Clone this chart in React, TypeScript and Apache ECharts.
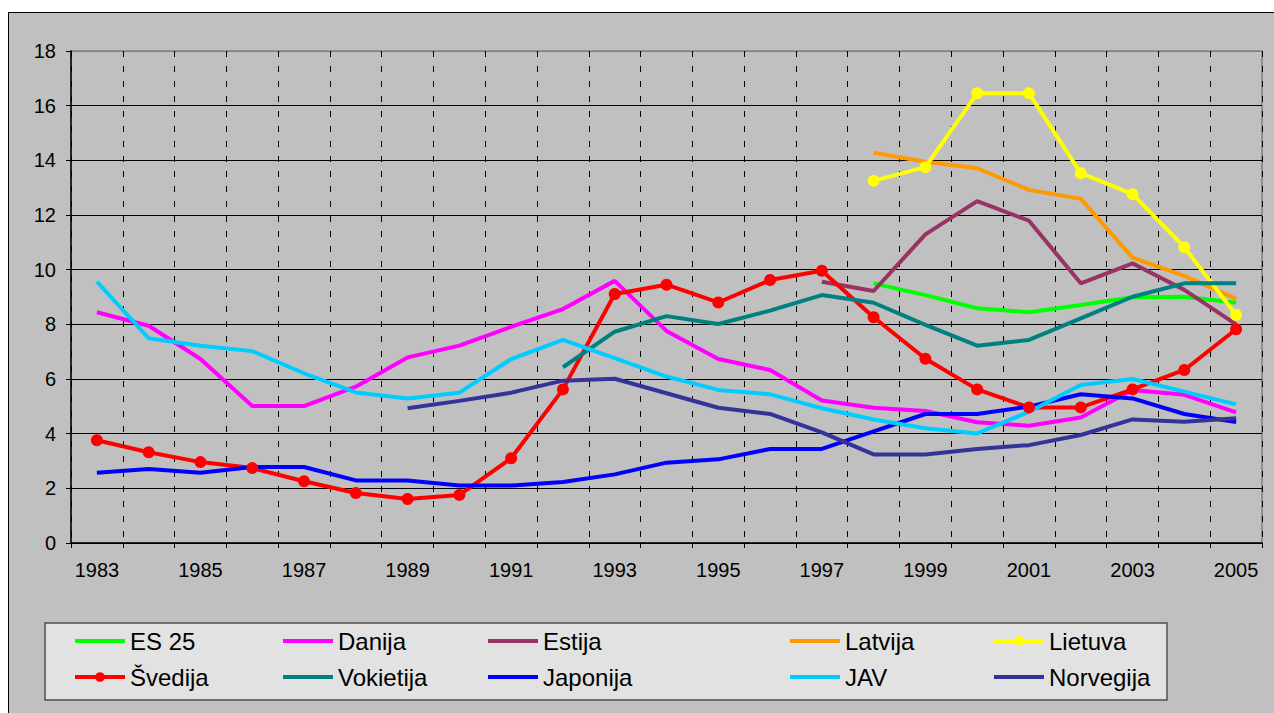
import React, { useEffect, useRef } from "react";
import * as echarts from "echarts";

const years = [
  "1983", "1984", "1985", "1986", "1987", "1988", "1989", "1990", "1991", "1992", "1993", "1994",
  "1995", "1996", "1997", "1998", "1999", "2000", "2001", "2002", "2003", "2004", "2005",
];

const N = null;
const es25 = [N, N, N, N, N, N, N, N, N, N, N, N, N, N, N, 9.5, 9.07, 8.59, 8.44, 8.71, 8.99, 9.01, 8.79];
const danija = [8.44, 7.95, 6.73, 5.01, 5.01, 5.72, 6.79, 7.22, 7.91, 8.56, 9.59, 7.76, 6.73, 6.33, 5.21, 4.95, 4.83, 4.42, 4.29, 4.59, 5.6, 5.42, 4.78];
const estija = [N, N, N, N, N, N, N, N, N, N, N, N, N, N, 9.56, 9.22, 11.29, 12.51, 11.79, 9.5, 10.23, 9.26, 8.0];
const latvija = [N, N, N, N, N, N, N, N, N, N, N, N, N, N, N, 14.28, 13.95, 13.71, 12.92, 12.59, 10.44, 9.77, 8.93];
const lietuva = [N, N, N, N, N, N, N, N, N, N, N, N, N, N, N, 13.25, 13.75, 16.45, 16.45, 13.53, 12.76, 10.82, 8.34];
const svedija = [3.76, 3.32, 2.96, 2.74, 2.26, 1.83, 1.61, 1.76, 3.1, 5.62, 9.11, 9.45, 8.8, 9.62, 9.96, 8.26, 6.74, 5.62, 4.96, 4.96, 5.62, 6.33, 7.82];
const vokietija = [N, N, N, N, N, N, N, N, N, 6.43, 7.73, 8.3, 8.01, 8.5, 9.07, 8.79, 7.98, 7.22, 7.43, 8.22, 9.01, 9.5, 9.5];
const japonija = [2.57, 2.71, 2.57, 2.78, 2.78, 2.29, 2.29, 2.1, 2.1, 2.23, 2.51, 2.94, 3.06, 3.44, 3.44, 4.08, 4.72, 4.72, 4.99, 5.44, 5.29, 4.72, 4.43];
const jav = [9.56, 7.49, 7.22, 7.02, 6.21, 5.51, 5.29, 5.5, 6.73, 7.43, 6.76, 6.09, 5.6, 5.44, 4.93, 4.52, 4.2, 4.01, 4.8, 5.78, 6.0, 5.54, 5.07];
const norvegija = [N, N, N, N, N, N, 4.93, 5.2, 5.5, 5.94, 6.01, 5.48, 4.95, 4.72, 4.05, 3.24, 3.24, 3.44, 3.58, 3.95, 4.52, 4.44, 4.56];

const seriesDefs = [
  { name: "ES 25", data: es25, color: "#00ff00", marker: false },
  { name: "Danija", data: danija, color: "#ff00ff", marker: false },
  { name: "Estija", data: estija, color: "#993366", marker: false },
  { name: "Latvija", data: latvija, color: "#ff9900", marker: false },
  { name: "Lietuva", data: lietuva, color: "#ffff00", marker: true },
  { name: "Švedija", data: svedija, color: "#ff0000", marker: true },
  { name: "Vokietija", data: vokietija, color: "#008080", marker: false },
  { name: "Japonija", data: japonija, color: "#0000ff", marker: false },
  { name: "JAV", data: jav, color: "#00ccff", marker: false },
  { name: "Norvegija", data: norvegija, color: "#333399", marker: false },
];

const legendColumns = [
  { left: 64, items: ["ES 25", "Švedija"] },
  { left: 272, items: ["Danija", "Vokietija"] },
  { left: 477, items: ["Estija", "Japonija"] },
  { left: 779, items: ["Latvija", "JAV"] },
  { left: 983, items: ["Lietuva", "Norvegija"] },
];

const FONT = "'Liberation Sans', Arial, sans-serif";

export default function App() {
  const ref = useRef<HTMLDivElement>(null);
  useEffect(() => {
    if (!ref.current) return;
    const chart = echarts.init(ref.current, null, { renderer: "svg" });
    const splitColors = ["#000", "#000", "#000", "#000", "#000", "#000", "#000", "#000", "#000", "#808080"];
    const hasMarker = (name: string) => seriesDefs.find((s) => s.name === name)?.marker;
    chart.setOption({
      animation: false,
      backgroundColor: "#c0c0c0",
      textStyle: { fontFamily: FONT },
      grid: {
        left: 62,
        top: 38,
        width: 1191,
        height: 492,
        show: true,
        borderColor: "#808080",
        borderWidth: 1.5,
        backgroundColor: "transparent",
      },
      graphic: [
        {
          type: "rect",
          shape: { x: 36, y: 610, width: 1122, height: 77 },
          style: { fill: "#e2e2e2", stroke: "#505050", lineWidth: 1.5 },
          z: 0,
        },
      ],
      legend: legendColumns.map((c) => ({
        orient: "vertical",
        left: c.left,
        top: 616,
        padding: 0,
        itemGap: 12,
        itemWidth: 50,
        itemHeight: 12,
        lineStyle: { width: 4 },
        data: c.items.map((n) =>
          hasMarker(n) ? { name: n } : { name: n, itemStyle: { opacity: 0 } }
        ),
        selectedMode: false,
        textStyle: { fontSize: 24, lineHeight: 24, color: "#000", fontFamily: FONT },
      })),
      xAxis: {
        type: "category",
        data: years,
        boundaryGap: true,
        axisLine: { lineStyle: { color: "#000", width: 1.5 } },
        axisTick: { show: true, interval: 0, length: 5, lineStyle: { color: "#000" } },
        axisLabel: { interval: 1, fontSize: 20, color: "#000", margin: 17, fontFamily: FONT },
        splitLine: { show: true, interval: 0, lineStyle: { color: "#000", type: [6, 9], width: 1 } },
      },
      yAxis: {
        type: "value",
        min: 0,
        max: 18,
        interval: 2,
        axisLine: { show: true, lineStyle: { color: "#000", width: 1.5 } },
        axisTick: { show: true, length: 5, lineStyle: { color: "#000" } },
        axisLabel: { fontSize: 20, color: "#000", margin: 15, fontFamily: FONT },
        splitLine: { show: true, lineStyle: { color: splitColors, width: 1 } },
      },
      series: seriesDefs.map((s) => ({
        name: s.name,
        type: "line",
        data: s.data,
        connectNulls: false,
        symbol: s.marker ? "circle" : "none",
        symbolSize: 12,
        showSymbol: s.marker,
        color: s.color,
        itemStyle: { color: s.color },
        lineStyle: { color: s.color, width: 4 },
      })),
    });
    return () => chart.dispose();
  }, []);
  return (
    <div
      style={{
        position: "fixed",
        left: 8,
        top: 12,
        width: 1280,
        height: 720,
        border: "1px solid #000",
        boxSizing: "content-box",
        background: "#c0c0c0",
      }}
    >
      <div ref={ref} style={{ width: 1280, height: 720 }} />
    </div>
  );
}
